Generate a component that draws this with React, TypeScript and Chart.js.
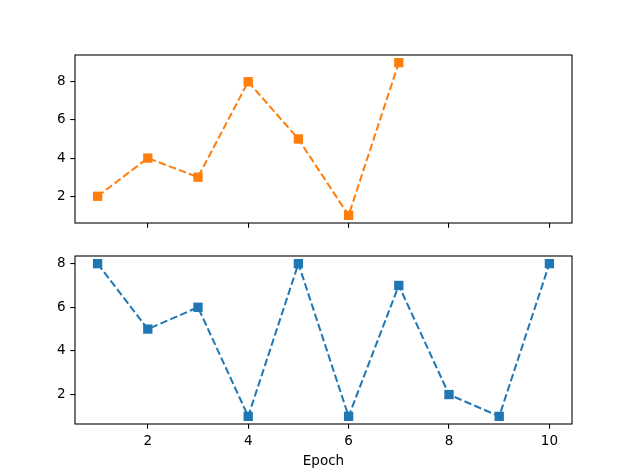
import React, { useEffect, useRef } from "react";
import { Chart, registerables } from "chart.js";

Chart.register(...registerables);

const epochsTop = [1, 2, 3, 4, 5, 6, 7];
const valuesTop = [2, 4, 3, 8, 5, 1, 9];
const epochsBottom = [1, 2, 3, 4, 5, 6, 7, 8, 9, 10];
const valuesBottom = [8, 5, 6, 1, 8, 1, 7, 2, 1, 8];
const xTicks = [2, 4, 6, 8, 10];
const yTicksTop = [2, 4, 6, 8];
const yTicksBottom = [2, 4, 6, 8];
const xLabel = "Epoch";

const W = 623;
const H = 472;
const FONT = { family: "'DejaVu Sans', sans-serif", size: 13.5 };
const TICK = 4.7;
const LW = 1.08;

const framePlugin = {
  id: "frame",
  afterDraw(chart: any) {
    const { ctx, chartArea } = chart;
    ctx.save();
    ctx.strokeStyle = "#000";
    ctx.lineWidth = LW;
    ctx.strokeRect(
      chartArea.left,
      chartArea.top,
      chartArea.right - chartArea.left,
      chartArea.bottom - chartArea.top
    );
    ctx.restore();
  },
};

function makeConfig(
  xs: number[],
  ys: number[],
  color: string,
  yTicks: number[],
  yMin: number,
  yMax: number,
  area: { top: number; bottom: number },
  bottomPanel: boolean
): any {
  const xAxisH = bottomPanel ? H - area.bottom : 12;
  return {
    type: "line",
    data: {
      datasets: [
        {
          data: xs.map((x, i) => ({ x, y: ys[i] })),
          borderColor: color,
          backgroundColor: color,
          borderWidth: 2.03,
          borderDash: [7.5, 3.2],
          pointStyle: "rect",
          pointRadius: 6.6,
          pointBorderWidth: 0,
          pointBackgroundColor: color,
          tension: 0,
          fill: false,
        },
      ],
    },
    options: {
      animation: false,
      responsive: false,
      events: [],
      layout: {
        padding: {
          left: 0,
          right: W - 572,
          top: area.top,
          bottom: H - area.bottom - xAxisH,
        },
      },
      plugins: {
        legend: { display: false },
        tooltip: { enabled: false },
      },
      scales: {
        x: {
          type: "linear",
          min: 0.55,
          max: 10.45,
          afterBuildTicks: (s: any) => {
            s.ticks = xTicks.map((v) => ({ value: v }));
          },
          afterFit: (s: any) => {
            s.height = xAxisH;
          },
          grid: {
            drawOnChartArea: false,
            drawTicks: true,
            tickLength: TICK,
            color: "#000",
            lineWidth: LW,
          },
          border: { display: false },
          ticks: {
            autoSkip: false,
            maxRotation: 0,
            padding: TICK,
            font: FONT,
            color: bottomPanel ? "#000" : "rgba(0,0,0,0)",
            callback: (v: any) => String(v),
          },
          title: {
            display: bottomPanel,
            text: xLabel,
            color: "#000",
            font: FONT,
            padding: { top: 0, bottom: 2 },
          },
        },
        y: {
          type: "linear",
          min: yMin,
          max: yMax,
          afterBuildTicks: (s: any) => {
            s.ticks = yTicks.map((v) => ({ value: v }));
          },
          afterFit: (s: any) => {
            s.width = 75;
          },
          grid: {
            drawOnChartArea: false,
            drawTicks: true,
            tickLength: TICK,
            color: "#000",
            lineWidth: LW,
          },
          border: { display: false },
          ticks: {
            padding: TICK,
            font: FONT,
            color: "#000",
            callback: (v: any) => String(v),
          },
        },
      },
    },
    plugins: [framePlugin],
  };
}

export default function App() {
  const topRef = useRef<HTMLCanvasElement>(null);
  const botRef = useRef<HTMLCanvasElement>(null);

  useEffect(() => {
    const c1 = new Chart(
      topRef.current!,
      makeConfig(epochsTop, valuesTop, "#ff7f0e", yTicksTop, 0.6, 9.4, { top: 55, bottom: 223 }, false)
    );
    const c2 = new Chart(
      botRef.current!,
      makeConfig(epochsBottom, valuesBottom, "#1f77b4", yTicksBottom, 0.65, 8.35, { top: 256, bottom: 424 }, true)
    );
    return () => {
      c1.destroy();
      c2.destroy();
    };
  }, []);

  const cs: React.CSSProperties = { position: "absolute", left: 0, top: 0, width: W, height: H };
  return (
    <div style={{ position: "fixed", left: 0, top: 0, width: W, height: H, background: "#fff" }}>
      <canvas ref={topRef} width={W} height={H} style={cs} />
      <canvas ref={botRef} width={W} height={H} style={cs} />
    </div>
  );
}
